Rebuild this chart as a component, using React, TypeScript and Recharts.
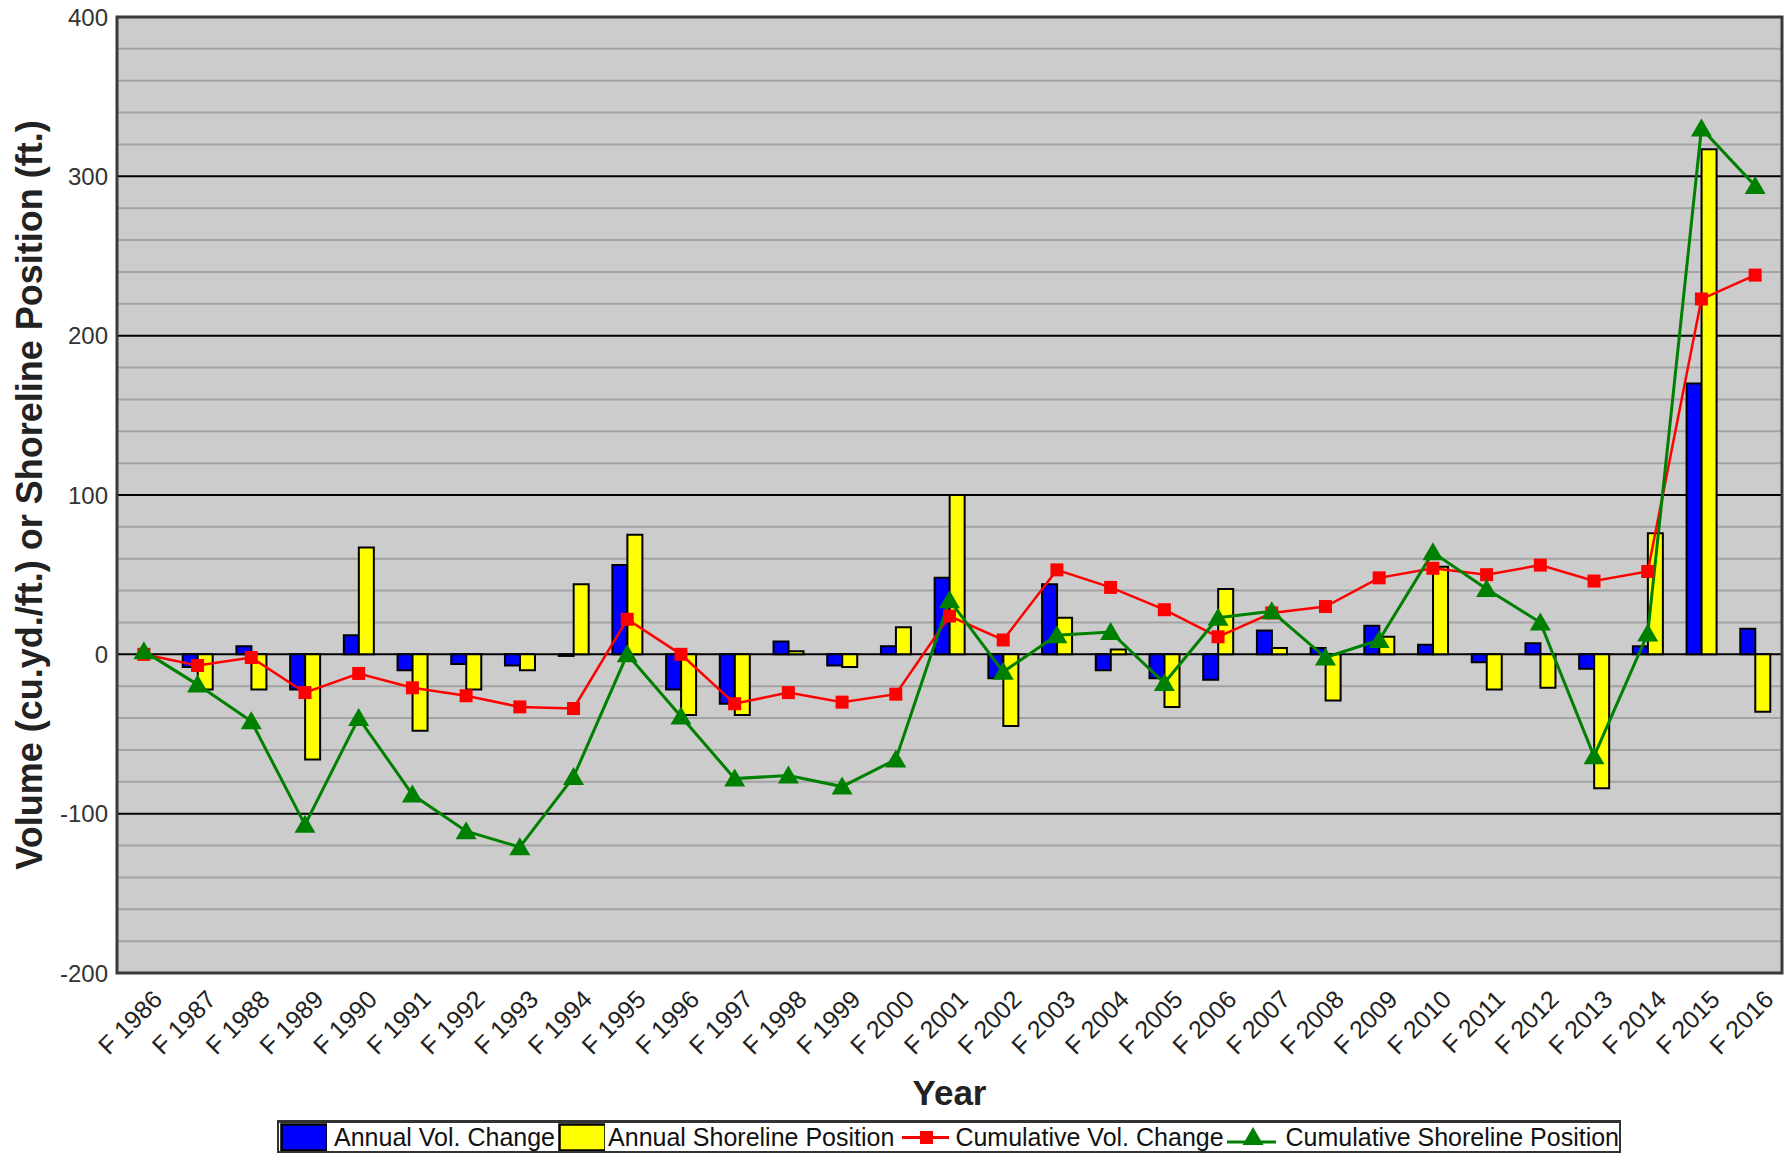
import React from "react";
import {
  ComposedChart,
  Bar,
  Line,
  XAxis,
  YAxis,
  CartesianGrid,
  ReferenceArea,
  Legend,
} from "recharts";

const years = [
  "F 1986", "F 1987", "F 1988", "F 1989", "F 1990", "F 1991", "F 1992", "F 1993",
  "F 1994", "F 1995", "F 1996", "F 1997", "F 1998", "F 1999", "F 2000", "F 2001",
  "F 2002", "F 2003", "F 2004", "F 2005", "F 2006", "F 2007", "F 2008", "F 2009",
  "F 2010", "F 2011", "F 2012", "F 2013", "F 2014", "F 2015", "F 2016",
];

const annualVol = [
  0, -8, 5, -22, 12, -10, -6, -7, -1, 56, -22, -31, 8, -7, 5, 48,
  -15, 44, -10, -15, -16, 15, 4, 18, 6, -5, 7, -9, 5, 170, 16,
];

const annualShore = [
  0, -22, -22, -66, 67, -48, -22, -10, 44, 75, -38, -38, 2, -8, 17, 100,
  -45, 23, 3, -33, 41, 4, -29, 11, 55, -22, -21, -84, 76, 317, -36,
];

const cumVol = [
  0, -7, -2, -24, -12, -21, -26, -33, -34, 22, 0, -31, -24, -30, -25, 24,
  9, 53, 42, 28, 11, 26, 30, 48, 54, 50, 56, 46, 52, 223, 238,
];

const cumShore = [
  2, -19, -42, -107, -40, -88, -111, -121, -77, 0, -39, -78, -76, -83, -66, 34,
  -11, 12, 14, -18, 23, 27, -2, 9, 64, 41, 20, -64, 13, 330, 294,
];

const yTicks = [-200, -100, 0, 100, 200, 300, 400];
const majorLines = [-100, 0, 100, 200, 300];
const minorLines = [
  -180, -160, -140, -120, -80, -60, -40, -20, 20, 40, 60, 80,
  120, 140, 160, 180, 220, 240, 260, 280, 320, 340, 360, 380,
];

const data = years.map((year, i) => ({
  year,
  annualVol: annualVol[i],
  annualShore: annualShore[i],
  cumVol: cumVol[i],
  cumShore: cumShore[i],
}));

const FONT = "'Liberation Sans', Arial, sans-serif";

const XTick = ({ x, y, payload }: any) => (
  <text
    transform={`translate(${x + 20},${y + 28}) rotate(-45)`}
    textAnchor="end"
    fontSize={25}
    fontFamily={FONT}
    fill="#222"
  >
    {payload.value}
  </text>
);

const SquareDot = (props: any) => {
  const { cx, cy, index } = props;
  if (cx == null || cy == null) return <g key={`sq-${index}`} />;
  return <rect key={`sq-${index}`} x={cx - 6.5} y={cy - 6.5} width={13} height={13} fill="#ff0000" />;
};

const TriangleDot = (props: any) => {
  const { cx, cy, index } = props;
  if (cx == null || cy == null) return <g key={`tr-${index}`} />;
  return (
    <polygon
      key={`tr-${index}`}
      points={`${cx},${cy - 10} ${cx - 10.5},${cy + 8} ${cx + 10.5},${cy + 8}`}
      fill="#008000"
    />
  );
};

const YTitle = ({ viewBox }: any) => {
  const cy = viewBox.y + viewBox.height / 2;
  return (
    <text
      transform={`translate(42,${cy}) rotate(-90)`}
      textAnchor="middle"
      fontSize={36}
      fontWeight="bold"
      fontFamily={FONT}
      fill="#222"
    >
      Volume (cu.yd./ft.) or Shoreline Position (ft.)
    </text>
  );
};

const XTitle = ({ viewBox }: any) => (
  <text
    x={viewBox.x + viewBox.width / 2}
    y={1105}
    textAnchor="middle"
    fontSize={35}
    fontWeight="bold"
    fontFamily={FONT}
    fill="#222"
  >
    Year
  </text>
);

const LegendBox = () => {
  const text = { fontSize: 25, fontFamily: FONT, color: "#111", whiteSpace: "nowrap" as const };
  return (
    <div
      style={{
        boxSizing: "border-box",
        width: 1344,
        height: 33,
        border: "2px solid #333",
        borderTopWidth: 3,
        background: "#fff",
        display: "flex",
        alignItems: "center",
        paddingLeft: 1,
        overflow: "hidden",
      }}
    >
      <svg width={49} height={29}>
        <rect x={1.5} y={1.5} width={46} height={26} fill="#0000ff" stroke="#000" strokeWidth={2.5} />
      </svg>
      <span style={{ ...text, marginLeft: 7 }}>Annual Vol. Change</span>
      <svg width={49} height={29} style={{ marginLeft: 3 }}>
        <rect x={1.5} y={1.5} width={46} height={26} fill="#ffff00" stroke="#000" strokeWidth={2.5} />
      </svg>
      <span style={{ ...text, marginLeft: 3 }}>Annual Shoreline Position</span>
      <svg width={49} height={29} style={{ marginLeft: 8 }}>
        <line x1={0} y1={14.5} x2={49} y2={14.5} stroke="#ff0000" strokeWidth={3} />
        <rect x={18} y={8} width={13} height={13} fill="#ff0000" />
      </svg>
      <span style={{ ...text, marginLeft: 6 }}>Cumulative Vol. Change</span>
      <svg width={52} height={29} style={{ marginLeft: 3 }}>
        <line x1={0} y1={19} x2={52} y2={19} stroke="#008000" strokeWidth={3} />
        <polygon points="26,4 15.5,22 36.5,22" fill="#008000" />
      </svg>
      <span style={{ ...text, marginLeft: 9 }}>Cumulative Shoreline Position</span>
    </div>
  );
};

export default function App() {
  return (
    <div style={{ position: "absolute", left: 0, top: 0, width: 1792, height: 1153, background: "#fff" }}>
      <ComposedChart
        width={1792}
        height={1153}
        data={data}
        margin={{ top: 17, right: 10, bottom: 0, left: 0 }}
        barGap={0}
        barSize={15}
      >
        <CartesianGrid
          vertical={false}
          horizontalValues={minorLines}
          stroke="#a3a3a3"
          strokeWidth={2}
          fill="#cccccc"
        />
        <CartesianGrid vertical={false} horizontalValues={majorLines} stroke="#000" strokeWidth={2} />
        <XAxis
          dataKey="year"
          interval={0}
          height={147}
          tickSize={0}
          tickMargin={0}
          axisLine={false}
          tick={<XTick />}
          label={{ content: XTitle }}
        />
        <YAxis
          domain={[-200, 400]}
          ticks={yTicks}
          width={117}
          tickSize={0}
          tickMargin={9}
          axisLine={false}
          tick={{ fontSize: 24, fontFamily: FONT, fill: "#333" }}
          label={{ content: YTitle }}
        />
        <Bar dataKey="annualVol" name="Annual Vol. Change" fill="#0000ff" stroke="#000" strokeWidth={2} isAnimationActive={false} />
        <Bar dataKey="annualShore" name="Annual Shoreline Position" fill="#ffff00" stroke="#000" strokeWidth={2} isAnimationActive={false} />
        <Line
          dataKey="cumVol"
          name="Cumulative Vol. Change"
          stroke="#ff0000"
          strokeWidth={2.5}
          dot={SquareDot}
          activeDot={false}
          isAnimationActive={false}
        />
        <Line
          dataKey="cumShore"
          name="Cumulative Shoreline Position"
          stroke="#008000"
          strokeWidth={3}
          dot={TriangleDot}
          activeDot={false}
          isAnimationActive={false}
        />
        <ReferenceArea y1={-200} y2={400} fill="none" stroke="#3a3a3a" strokeWidth={3} />
        <Legend
          verticalAlign="bottom"
          align="left"
          content={<LegendBox />}
          wrapperStyle={{ left: 277, bottom: 0, width: 1344, height: 33 }}
        />
      </ComposedChart>
    </div>
  );
}
